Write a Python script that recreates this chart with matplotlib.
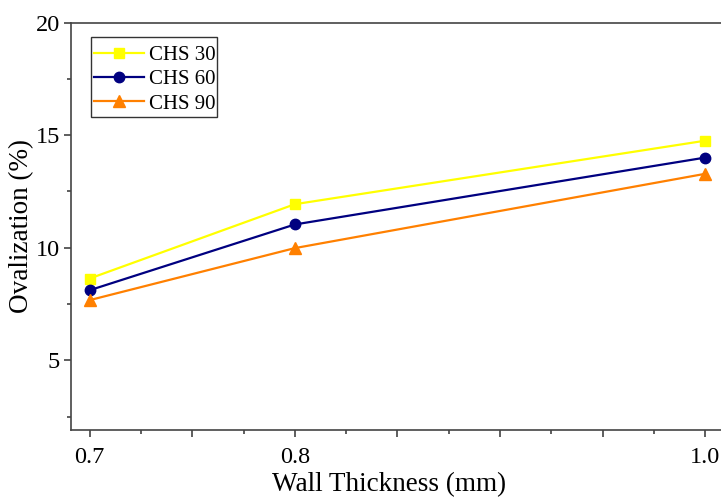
import numpy as np
import matplotlib
matplotlib.use("Agg")
import matplotlib.pyplot as plt
from matplotlib.patches import Rectangle
from matplotlib.ticker import MultipleLocator, FixedLocator, FixedFormatter

# data
thickness = [0.7, 0.8, 1.0]
chs30 = [8.63, 11.93, 14.75]
chs60 = [8.11, 11.03, 14.0]
chs90 = [7.67, 9.98, 13.28]

x_major = [0.7, 0.75, 0.8, 0.85, 0.9, 0.95, 1.0]
x_labels = ["0.7", "", "0.8", "", "", "", "1.0"]

plt.rcParams['font.family'] = ['Liberation Serif', 'DejaVu Serif']

fig = plt.figure(figsize=(7.21, 4.98), dpi=100)
ax = fig.add_axes([0.0985, 0.1365, 0.908, 0.8183])

ax.plot(thickness, chs30, color="#FFFF00", marker="s", ms=7, lw=1.6, label="CHS 30")
ax.plot(thickness, chs60, color="#000080", marker="o", ms=7.5, lw=1.6, label="CHS 60")
ax.plot(thickness, chs90, color="#FF8000", marker="^", ms=8, lw=1.6, label="CHS 90")

ax.set_xlim(0.6909, 1.01)
ax.set_ylim(1.9, 20)

ax.xaxis.set_major_locator(FixedLocator(x_major))
ax.xaxis.set_major_formatter(FixedFormatter(x_labels))
ax.xaxis.set_minor_locator(MultipleLocator(0.025))
ax.yaxis.set_major_locator(MultipleLocator(5))
ax.yaxis.set_minor_locator(MultipleLocator(2.5))

ax.tick_params(which="both", direction="out", colors="#333333", labelcolor="black", labelsize=17.5)
ax.tick_params(which="major", length=5, width=1.1)
ax.tick_params(which="minor", length=3, width=1.1)
ax.tick_params(axis="x", which="both", pad=7)
ax.tick_params(axis="y", which="both", pad=3)
for s in ax.spines.values():
    s.set_color("#444444")
    s.set_linewidth(1.2)

ax.set_xlabel("Wall Thickness (mm)", fontsize=19.5)
ax.xaxis.set_label_coords(0.486, -0.104)
ax.set_ylabel("Ovalization (%)", fontsize=19.5, labelpad=1)

# legend without its own frame, box drawn separately (taller padding than matplotlib gives)
leg = ax.legend(loc="upper left", bbox_to_anchor=(0.0306, 0.951), borderaxespad=0,
                fontsize=15, frameon=False, handlelength=2.4, borderpad=0.15,
                labelspacing=0.22, handletextpad=0.25)
ax.add_patch(Rectangle((0.0306, 0.768), 0.1925, 0.1964, transform=ax.transAxes,
                       fill=False, edgecolor="#333333", lw=1.0, zorder=5))

fig.savefig("out.png", dpi=100)
